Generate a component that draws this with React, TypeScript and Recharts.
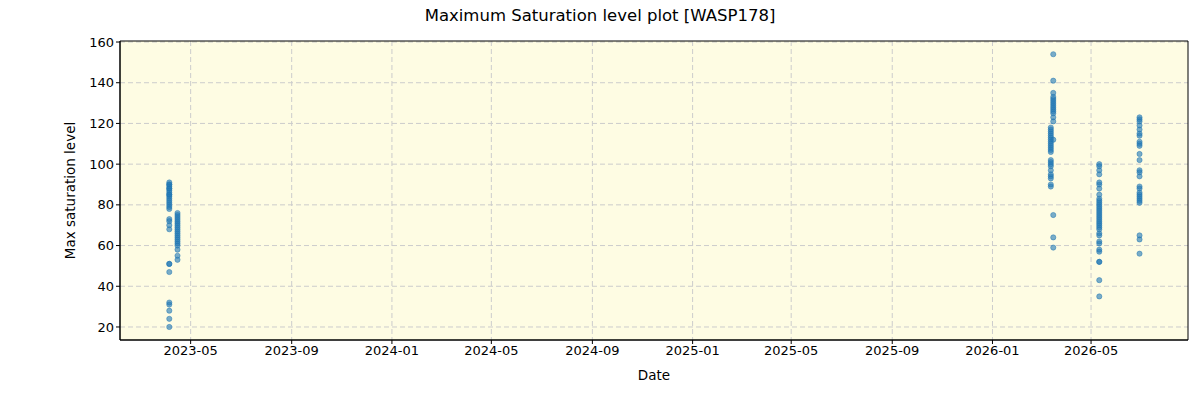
import React from 'react';
import {
  ScatterChart,
  Scatter,
  XAxis,
  YAxis,
  CartesianGrid,
  ReferenceArea,
} from 'recharts';

const day = (y: number, m: number, d: number) => Date.UTC(y, m - 1, d);

// observing nights and the max saturation level read for each frame
const night1Date = day(2023, 4, 5);
const night1Values = [91, 90, 90, 89, 88, 88, 87, 86, 85, 85, 84, 83, 82, 81, 80, 79, 78, 73, 72, 70, 68, 51, 51, 47, 32, 31, 28, 24, 20];

const night2Date = day(2023, 4, 15);
const night2Values = [76, 75, 74, 73, 72, 71, 70, 69, 68, 67, 66, 65, 64, 63, 62, 61, 60, 58, 55, 53];

const night3aDate = day(2026, 3, 13);
const night3aValues = [118, 117, 116, 115, 114, 113, 112, 111, 110, 109, 108, 107, 106, 102, 101, 100, 99, 97, 95, 94, 93, 90, 89];

const night3bDate = day(2026, 3, 16);
const night3bValues = [154, 141, 135, 133, 132, 131, 130, 129, 128, 127, 126, 125, 123, 121, 112, 75, 64, 59];

const night4Date = day(2026, 5, 11);
const night4Values = [100, 99, 97, 95, 91, 90, 88, 85, 83, 82, 81, 80, 79, 78, 77, 76, 75, 74, 73, 72, 71, 70, 69, 68, 66, 65, 62, 61, 58, 57, 52, 52, 43, 35];

const night5Date = day(2026, 6, 29);
const night5Values = [123, 122, 121, 119, 117, 115, 114, 111, 110, 109, 105, 102, 97, 96, 94, 89, 88, 86, 85, 84, 83, 82, 81, 65, 63, 56];

const xTicks = [
  day(2023, 5, 1), day(2023, 9, 1), day(2024, 1, 1), day(2024, 5, 1), day(2024, 9, 1),
  day(2025, 1, 1), day(2025, 5, 1), day(2025, 9, 1), day(2026, 1, 1), day(2026, 5, 1),
];
const yTicks = [20, 40, 60, 80, 100, 120, 140, 160];

const xDomain = [day(2023, 2, 4), day(2026, 8, 27)];
const yDomain = [13.6, 160.5];

const points = [
  ...night1Values.map((v) => ({ t: night1Date, v })),
  ...night2Values.map((v) => ({ t: night2Date, v })),
  ...night3aValues.map((v) => ({ t: night3aDate, v })),
  ...night3bValues.map((v) => ({ t: night3bDate, v })),
  ...night4Values.map((v) => ({ t: night4Date, v })),
  ...night5Values.map((v) => ({ t: night5Date, v })),
];

const fmtDate = (t: number) => {
  const d = new Date(t);
  return `${d.getUTCFullYear()}-${String(d.getUTCMonth() + 1).padStart(2, '0')}`;
};

const font = 'DejaVu Sans, sans-serif';
const tickStyle = { fill: '#000', fontSize: 13, fontFamily: font };

const Dot = (props: any) => (
  <circle cx={props.cx} cy={props.cy} r={2.6} fill="#1f77b4" fillOpacity={0.6} stroke="#1f77b4" strokeOpacity={0.6} strokeWidth={0.8} />
);

export default function App() {
  return (
    <div style={{ position: 'absolute', left: 0, top: 0, width: 1200, height: 400, background: '#fff', fontFamily: font }}>
      <div style={{ position: 'absolute', top: 6, width: 1200, textAlign: 'center', fontSize: 16.5 }}>
        Maximum Saturation level plot [WASP178]
      </div>
      <ScatterChart width={1200} height={400} margin={{ top: 41, right: 12, bottom: 0, left: 0 }}>
        <CartesianGrid
          fill="#fefce3"
          stroke="#cccccc"
          strokeDasharray="5 3"
          horizontalValues={yTicks}
          verticalValues={xTicks}
        />
        <XAxis
          type="number"
          dataKey="t"
          domain={xDomain}
          ticks={xTicks}
          tickFormatter={fmtDate}
          allowDataOverflow
          height={60}
          tick={tickStyle}
          tickSize={4}
          stroke="#000"
          label={{ value: 'Date', position: 'insideBottom', offset: 20, fill: '#000', fontSize: 13.5, fontFamily: font }}
        />
        <YAxis
          type="number"
          dataKey="v"
          domain={yDomain}
          ticks={yTicks}
          allowDataOverflow
          width={120}
          tick={tickStyle}
          tickSize={4}
          stroke="#000"
          label={{ value: 'Max saturation level', angle: -90, position: 'insideLeft', offset: 70, fill: '#000', fontSize: 13.5, fontFamily: font, style: { textAnchor: 'middle' } }}
        />
        <ReferenceArea
          x1={xDomain[0]}
          x2={xDomain[1]}
          y1={yDomain[0]}
          y2={yDomain[1]}
          fill="none"
          stroke="#000"
          strokeWidth={1}
          ifOverflow="visible"
        />
        <Scatter data={points} shape={<Dot />} isAnimationActive={false} />
      </ScatterChart>
    </div>
  );
}
